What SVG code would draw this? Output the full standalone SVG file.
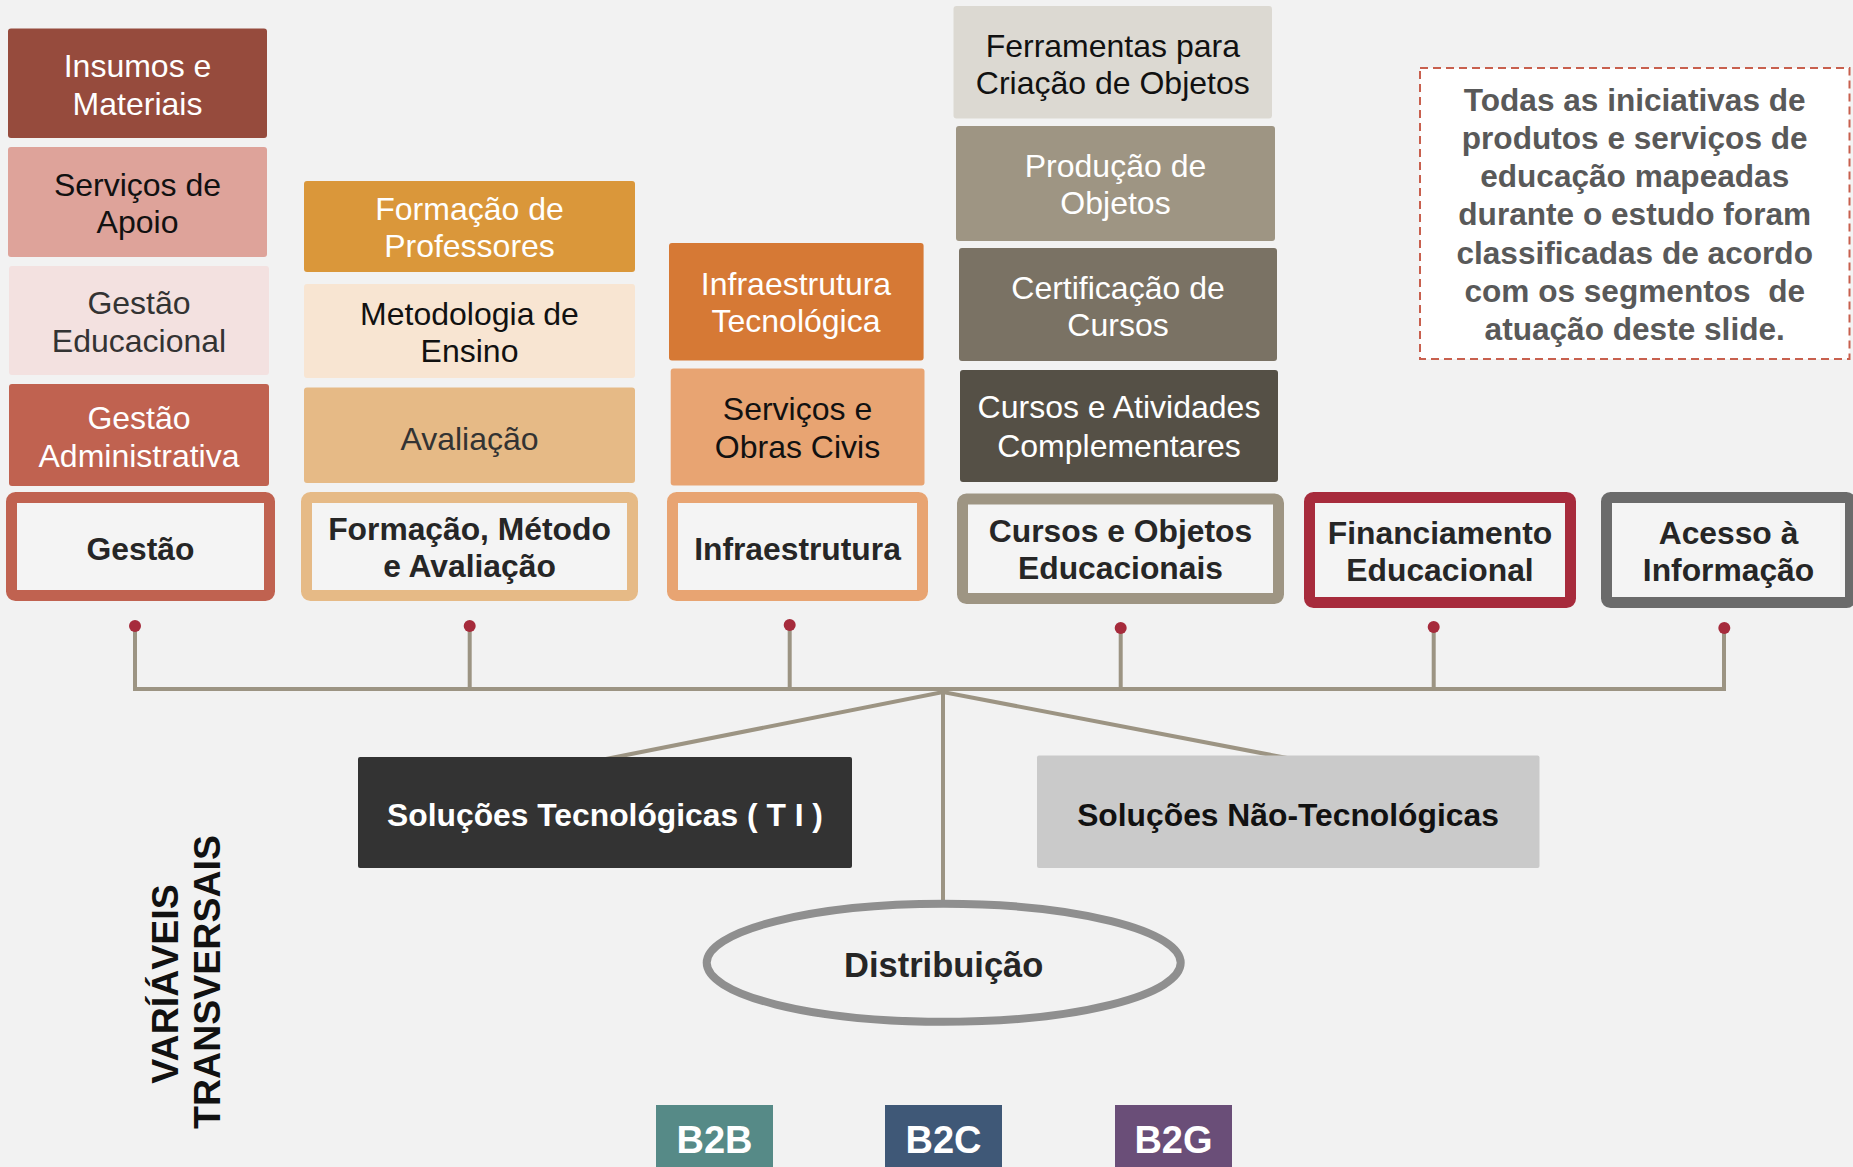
<svg xmlns="http://www.w3.org/2000/svg" width="1853" height="1167" viewBox="0 0 1853 1167">
<style>
text{font-family:"Liberation Sans",Arial,sans-serif;text-anchor:middle}
.r{font-size:32px}
.b{font-size:31.8px;font-weight:bold;fill:#262626}
.w{fill:#ffffff}
.k{fill:#111111}
.g{fill:#333333}
.frame{fill:#F4F4F4;stroke-width:11}
.con{fill:none;stroke:#9C9483;stroke-width:4}
.dot{fill:#A62B3C}
</style>
<rect x="0" y="0" width="1853" height="1167" fill="#F2F2F2"/>

<g id="connectors">
<path class="con" d="M135,626 V689 H1724 V628"/>
<path class="con" d="M469.7,626 V689"/>
<path class="con" d="M789.7,625 V689"/>
<path class="con" d="M1120.7,628 V689"/>
<path class="con" d="M1433.7,627 V689"/>
<path class="con" d="M943,689 V900"/>
<path class="con" d="M606,759 L943,692 L1287,758"/>
<circle class="dot" cx="135" cy="626" r="6"/>
<circle class="dot" cx="469.7" cy="626" r="6"/>
<circle class="dot" cx="789.7" cy="625" r="6"/>
<circle class="dot" cx="1120.7" cy="628" r="6"/>
<circle class="dot" cx="1433.7" cy="627" r="6"/>
<circle class="dot" cx="1724.3" cy="628" r="6"/>
</g>

<g id="insumos">
<rect x="8" y="28.5" width="259" height="109.5" rx="3" fill="#964B3D"/>
<text class="r w" x="137.5" y="77">Insumos e</text>
<text class="r w" x="137.5" y="114.7">Materiais</text>
</g>
<g id="servicos-apoio">
<rect x="8" y="147" width="259" height="110" rx="3" fill="#DEA39A"/>
<text class="r k" x="137.5" y="195.7">Serviços de</text>
<text class="r k" x="137.5" y="233">Apoio</text>
</g>
<g id="gestao-educacional">
<rect x="9" y="266" width="260" height="109" rx="3" fill="#F3E1E0"/>
<text class="r g" x="139" y="314.4">Gestão</text>
<text class="r g" x="139" y="352">Educacional</text>
</g>
<g id="gestao-administrativa">
<rect x="9" y="384" width="260" height="102" rx="3" fill="#C06250"/>
<text class="r w" x="139" y="429">Gestão</text>
<text class="r w" x="139" y="466.6">Administrativa</text>
</g>
<g id="gestao">
<rect class="frame" x="11.5" y="497.5" width="258" height="98" rx="4" stroke="#C06250"/>
<text class="b" x="140.5" y="559.5">Gestão</text>
</g>

<g id="formacao-professores">
<rect x="304" y="181" width="331" height="91" rx="3" fill="#DA973A"/>
<text class="r w" x="469.5" y="219.5">Formação de</text>
<text class="r w" x="469.5" y="257">Professores</text>
</g>
<g id="metodologia">
<rect x="304" y="284" width="331" height="94" rx="3" fill="#F8E5D2"/>
<text class="r k" x="469.5" y="325">Metodologia de</text>
<text class="r k" x="469.5" y="362">Ensino</text>
</g>
<g id="avaliacao">
<rect x="304" y="387.5" width="331" height="95.5" rx="3" fill="#E6BA86"/>
<text class="r g" x="469.5" y="449.6">Avaliação</text>
</g>
<g id="formacao-metodo">
<rect class="frame" x="306.5" y="497.5" width="326" height="98" rx="4" stroke="#E6BA86"/>
<text class="b" x="469.5" y="539.7">Formação, Método</text>
<text class="b" x="469.5" y="577.3">e Avaliação</text>
</g>

<g id="infra-tecnologica">
<rect x="669" y="243" width="254.6" height="117.6" rx="3" fill="#D67935"/>
<text class="r w" x="796" y="294.6">Infraestrutura</text>
<text class="r w" x="796" y="332">Tecnológica</text>
</g>
<g id="servicos-obras">
<rect x="670.7" y="368.5" width="253.8" height="117" rx="3" fill="#E8A472"/>
<text class="r k" x="797.5" y="420.3">Serviços e</text>
<text class="r k" x="797.5" y="457.5">Obras Civis</text>
</g>
<g id="infraestrutura">
<rect class="frame" x="672.5" y="497.5" width="250" height="98" rx="4" stroke="#E8A472"/>
<text class="b" x="797.5" y="559.5">Infraestrutura</text>
</g>

<g id="ferramentas">
<rect x="953.5" y="6" width="318.5" height="112.6" rx="3" fill="#DCD9D2"/>
<text class="r k" x="1112.8" y="56.5">Ferramentas para</text>
<text class="r k" x="1112.8" y="94">Criação de Objetos</text>
</g>
<g id="producao">
<rect x="956" y="126" width="319" height="115" rx="3" fill="#9E9583"/>
<text class="r w" x="1115.5" y="177">Produção de</text>
<text class="r w" x="1115.5" y="213.5">Objetos</text>
</g>
<g id="certificacao">
<rect x="959" y="248" width="318" height="113" rx="3" fill="#7A7264"/>
<text class="r w" x="1118" y="298.5">Certificação de</text>
<text class="r w" x="1118" y="336">Cursos</text>
</g>
<g id="cursos-atividades">
<rect x="960" y="370" width="318" height="112" rx="3" fill="#555046"/>
<text class="r w" x="1119" y="418.3">Cursos e Atividades</text>
<text class="r w" x="1119" y="456.7">Complementares</text>
</g>
<g id="cursos-objetos">
<rect class="frame" x="962.5" y="499" width="316" height="99.5" rx="4" stroke="#9E9583"/>
<text class="b" x="1120.5" y="541.7">Cursos e Objetos</text>
<text class="b" x="1120.5" y="579.3">Educacionais</text>
</g>

<g id="financiamento">
<rect class="frame" x="1309.5" y="497.5" width="261" height="105" rx="4" stroke="#A72B3C"/>
<text class="b" x="1440" y="543.7">Financiamento</text>
<text class="b" x="1440" y="581.3">Educacional</text>
</g>
<g id="acesso">
<rect class="frame" x="1606.5" y="497.5" width="244" height="105" rx="4" stroke="#6B6B6B"/>
<text class="b" x="1728.5" y="543.7">Acesso à</text>
<text class="b" x="1728.5" y="581.3">Informação</text>
</g>

<g id="nota">
<rect x="1420" y="68" width="429.5" height="291" fill="#FFFFFF" stroke="#C8604E" stroke-width="2" stroke-dasharray="8 5"/>
<g style="font-size:31.6px;font-weight:bold;fill:#595959">
<text x="1634.7" y="110.7">Todas as iniciativas de</text>
<text x="1634.7" y="148.9">produtos e serviços de</text>
<text x="1634.7" y="187.1">educação mapeadas</text>
<text x="1634.7" y="225.3">durante o estudo foram</text>
<text x="1634.7" y="263.5">classificadas de acordo</text>
<text x="1634.7" y="301.7" xml:space="preserve">com os segmentos  de</text>
<text x="1634.7" y="340">atuação deste slide.</text>
</g>
</g>

<g id="solucoes-tecnologicas">
<rect x="358" y="757" width="494" height="111" rx="2" fill="#333333"/>
<text x="605" y="826" style="font-size:31.8px;font-weight:bold;fill:#ffffff">Soluções Tecnológicas ( T I )</text>
</g>
<g id="solucoes-nao-tecnologicas">
<rect x="1037" y="755.5" width="502.5" height="112.5" rx="2" fill="#CACACA"/>
<text x="1288" y="826" style="font-size:31.8px;font-weight:bold;fill:#111111">Soluções Não-Tecnológicas</text>
</g>

<g id="distribuicao">
<ellipse cx="943.7" cy="962.8" rx="237" ry="59" fill="#F2F2F2" stroke="#8F8F8F" stroke-width="8"/>
<text x="943.7" y="977" style="font-size:34.5px;font-weight:bold;fill:#262626">Distribuição</text>
</g>

<g id="variaveis" style="font-size:37.5px;font-weight:bold;fill:#111111">
<text transform="translate(178,984) rotate(-90)">VARÍÁVEIS</text>
<text transform="translate(220,982) rotate(-90)">TRANSVERSAIS</text>
</g>

<g id="b2b">
<rect x="656" y="1105" width="117" height="70" fill="#568A87"/>
<text x="714.5" y="1153.3" style="font-size:38px;font-weight:bold;fill:#ffffff">B2B</text>
</g>
<g id="b2c">
<rect x="885" y="1105" width="117" height="70" fill="#3F5877"/>
<text x="943.5" y="1153.3" style="font-size:38px;font-weight:bold;fill:#ffffff">B2C</text>
</g>
<g id="b2g">
<rect x="1115" y="1105" width="117" height="70" fill="#6A4E78"/>
<text x="1173.5" y="1153.3" style="font-size:38px;font-weight:bold;fill:#ffffff">B2G</text>
</g>
</svg>
